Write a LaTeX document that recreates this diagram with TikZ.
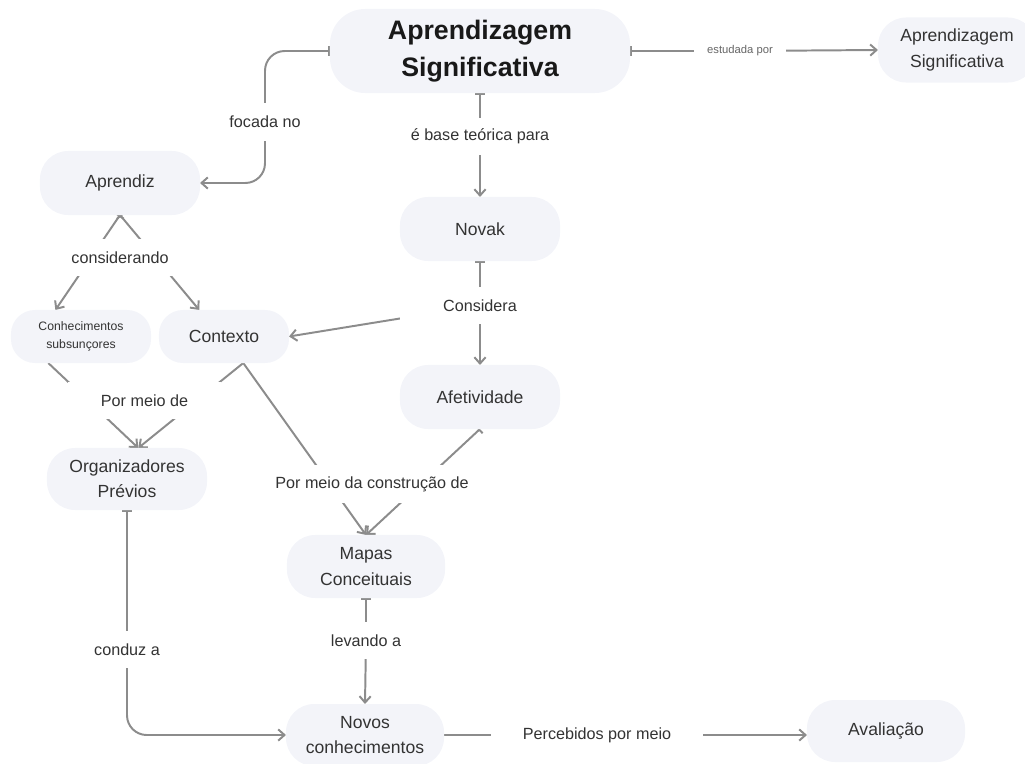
\documentclass[tikz,border=0pt]{standalone}
\usepackage{fontspec}
\setmainfont{Liberation Sans}
\usepackage{tikz}
\usetikzlibrary{arrows.meta}
\usetikzlibrary{backgrounds}

\definecolor{linkgray}{HTML}{8C8C8C}
\definecolor{cardfill}{HTML}{F3F4F9}
\definecolor{cardtext}{HTML}{333333}

\begin{document}
\begin{tikzpicture}[x=0.025cm, y=-0.025cm,
        concept/.style = {rounded corners=20pt, fill=cardfill, text=cardtext, align=center,
            font=\fontsize{12.5}{18}\selectfont, minimum width=4cm, minimum height=1.6cm,
            inner sep=2pt, outer sep=0pt},
        linking/.style = {fill=white, text=cardtext, font=\fontsize{11.5}{14}\selectfont,
            minimum height=0.93cm, inner xsep=5pt, inner ysep=0pt},
        link/.style = {draw=linkgray, line width=1.4pt},
        barto/.style = {link, {Bar[width=7pt]}-{Straight Barb[length=4.5pt,width=8pt]}},
        toonly/.style = {link, -{Straight Barb[length=4.5pt,width=8pt]}},
    ]
    \useasboundingbox (0,0) rectangle (1025,763);

    % conceitos
    \node[concept, minimum width=7.5cm, minimum height=2.1cm, rounded corners=25pt,
        text=black!90, font=\bfseries\fontsize{19}{26.5}\selectfont] (main) at (480,51)
        {Aprendizagem\\Significativa};
    \node[concept, minimum width=3.95cm, minimum height=1.625cm] (right) at (957,50)
        {Aprendizagem\\Significativa};
    \node[concept] (aprendiz) at (120,183) {Aprendiz};
    \node[concept] (novak) at (480,229) {Novak};
    \node[concept, minimum width=3.5cm, minimum height=1.325cm, rounded corners=17pt,
        font=\fontsize{8.7}{12.8}\selectfont] (conh) at (81,336.5) {Conhecimentos\\subsunçores};
    \node[concept, minimum width=3.25cm, minimum height=1.325cm, rounded corners=17pt] (contexto) at (224,336.5) {Contexto};
    \node[concept] (afetiv) at (480,397) {Afetividade};
    \node[concept, minimum height=1.55cm] (org) at (127,479) {Organizadores\\Prévios};
    \node[concept, minimum width=3.95cm, minimum height=1.575cm] (mapas) at (366,566.5) {Mapas\\Conceituais};
    \node[concept, minimum width=3.95cm, minimum height=1.55cm] (novos) at (365,735) {Novos\\conhecimentos};
    \node[concept, minimum width=3.95cm, minimum height=1.55cm] (avaliacao) at (886,731) {Avaliação};

    % frases de ligacao
    \node[linking, minimum width=2.3cm, text=black!60, font=\fontsize{8}{10}\selectfont] (estudada) at (740,51) {estudada por};
    \node[linking] (base) at (480,136.5) {é base teórica para};
    \node[linking] (focada) at (265,122) {focada no};
    \node[linking, minimum width=3.2cm] (considerando) at (120,257.5) {considerando};
    \node[linking, minimum width=4cm] (considera) at (480,305.5) {Considera};
    \node[linking, minimum width=3.8cm] (pormeio) at (144.5,400.5) {Por meio de};
    \node[linking] (construcao) at (372,484) {Por meio da construção de};
    \node[linking] (conduz) at (127,649.5) {conduz a};
    \node[linking] (levando) at (366,640.5) {levando a};
    \node[linking, minimum width=5.3cm] (percebidos) at (597,735) {Percebidos por meio};

    % ligacoes
    \begin{scope}[on background layer]
        \draw[barto] (main.east) -- (estudada.center) -- (right.west);
        \draw[barto] (main.south) -- (base.center) -- (novak.north);
        \draw[barto, rounded corners=14pt] (main.west) -| (focada.center) |- (aprendiz.east);
        \draw[barto] (aprendiz.south) -- (conh.134);
        \draw[barto] (aprendiz.south) -- (contexto.133);
        \draw[link, {Bar[width=7pt]}-] (novak.south) -- (considera.center);
        \draw[toonly] (considera.center) -- (afetiv.north);
        \draw[toonly] (considera.center) -- (contexto.east);
        \draw[toonly] (conh.219) -- (org.70);
        \draw[toonly] (contexto.306) -- (org.70);
        \draw[toonly] (contexto.306) -- (mapas.north);
        \draw[barto] (afetiv.south) -- (mapas.north);
        \draw[barto, rounded corners=14pt] (org.south) -- (conduz.center) |- (novos.west);
        \draw[barto] (mapas.south) -- (levando.center) -- (novos.north);
        \draw[toonly] (novos.east) -- (percebidos.center) -- (novos.east -| avaliacao.west);
    \end{scope}
\end{tikzpicture}
\end{document}
